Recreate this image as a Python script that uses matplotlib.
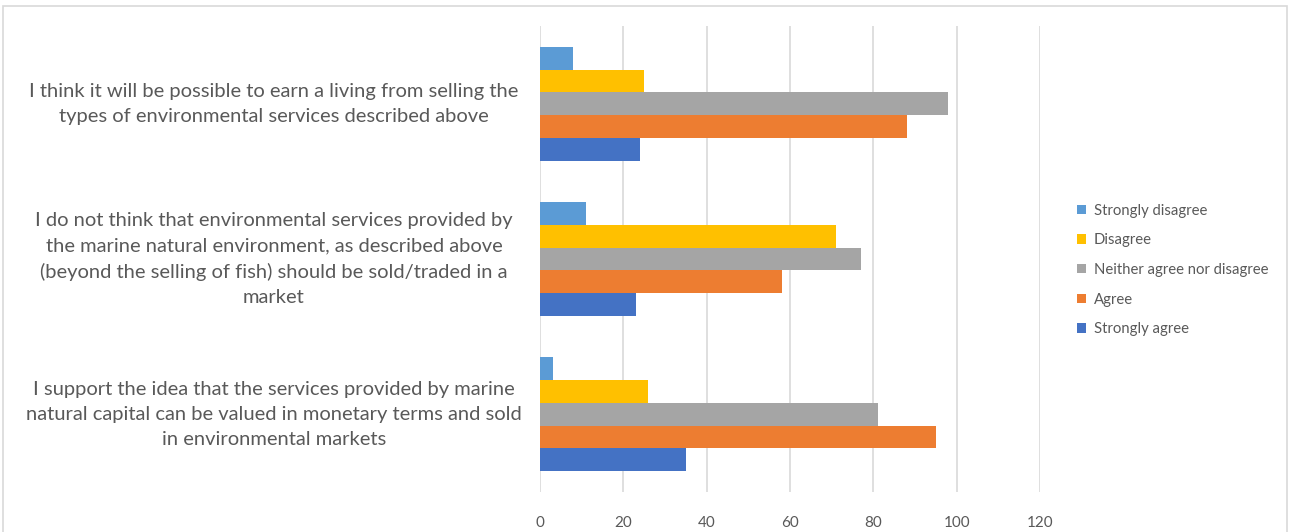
import numpy as np
import matplotlib
matplotlib.use("Agg")
import matplotlib.pyplot as plt
from matplotlib.patches import Rectangle, Patch

plt.rcParams['font.family'] = ['Lato', 'DejaVu Sans']

# survey statements, bottom to top as they sit on the axis
statements = [
    "I support the idea that the services provided by marine\nnatural capital can be valued in monetary terms and sold\nin environmental markets",
    "I do not think that environmental services provided by\nthe marine natural environment, as described above\n(beyond the selling of fish) should be sold/traded in a\nmarket",
    "I think it will be possible to earn a living from selling the\ntypes of environmental services described above",
]

# response counts per statement (same order as statements)
strongly_agree = [35, 23, 24]
agree = [95, 58, 88]
neither = [81, 77, 98]
disagree = [26, 71, 25]
strongly_disagree = [3, 11, 8]

series_names = ["Strongly agree", "Agree", "Neither agree nor disagree",
                "Disagree", "Strongly disagree"]
series_values = [strongly_agree, agree, neither, disagree, strongly_disagree]
series_colors = ["#4472C4", "#ED7D31", "#A5A5A5", "#FFC000", "#5B9BD5"]

x_ticks = [0, 20, 40, 60, 80, 100, 120]

W, H = 1290, 532
fig = plt.figure(figsize=(W / 100, H / 100), dpi=100)
fig.patch.set_facecolor("white")

# outer chart frame
fig.patches.append(Rectangle((3 / W, -0.05), 1284 / W, 1.05 - 6 / H,
                             transform=fig.transFigure, fill=False,
                             edgecolor="#D9D9D9", linewidth=1.2))

ax = fig.add_axes([540 / W, 40 / H, 500 / W, 466 / H])

n = len(series_names)
gap = 1.82
bar_h = 1 / (n + gap)
y = np.arange(len(statements))
for k, (name, vals, col) in enumerate(zip(series_names, series_values, series_colors)):
    offset = (k - (n - 1) / 2) * bar_h
    ax.barh(y + offset, vals, height=bar_h, color=col, label=name, zorder=3)

ax.set_xlim(0, 120)
ax.set_ylim(-0.5, len(statements) - 0.5)
ax.set_xticks(x_ticks)
ax.set_xticklabels([str(t) for t in x_ticks], fontsize=11, color="#595959")
ax.set_yticks(y)
ax.set_yticklabels([])
ax.tick_params(length=0, pad=17)
ax.grid(axis="x", color="#D9D9D9", linewidth=1.2, zorder=0)
for s in ax.spines.values():
    s.set_visible(False)

# category labels, centred in the left margin
label_x = (274 - 540) / 500
for yi, txt in zip(y, statements):
    ax.text(label_x, yi, txt, ha="center", va="center", fontsize=14.5,
            color="#595959", linespacing=1.58,
            transform=ax.get_yaxis_transform(), clip_on=False)

handles = [Patch(facecolor=c, edgecolor="none") for c in series_colors[::-1]]
fig.legend(handles, series_names[::-1], loc="center left",
           bbox_to_anchor=(1064 / W, 1 - 270 / H), frameon=False,
           fontsize=10.7, labelcolor="#595959", handlelength=0.6,
           handleheight=0.6, handletextpad=0.5, labelspacing=1.05)

fig.savefig("out.png", dpi=100)
